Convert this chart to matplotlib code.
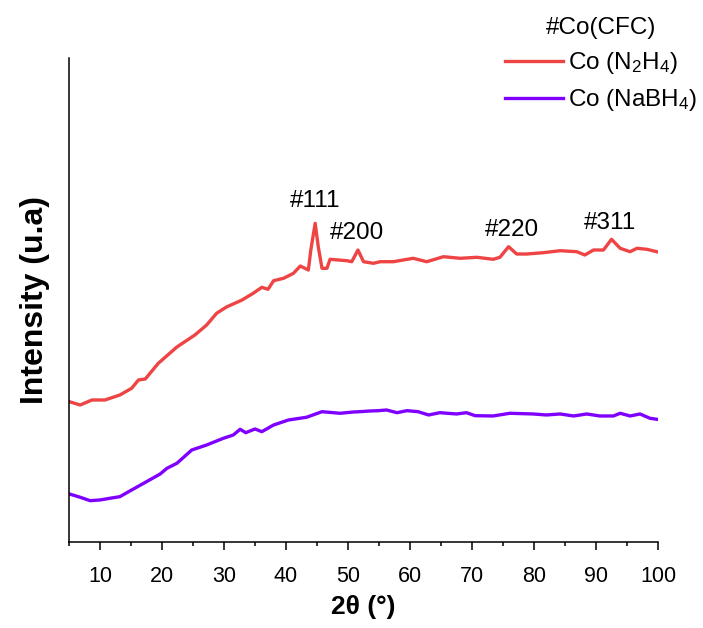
import matplotlib
matplotlib.use('Agg')
import matplotlib.pyplot as plt
from matplotlib.ticker import MultipleLocator

plt.rcParams['font.family'] = ['Liberation Sans', 'DejaVu Sans']
plt.rcParams['mathtext.default'] = 'regular'

# XRD patterns (2theta in degrees, intensity in arbitrary units)
theta_n2h4 = [5.05, 6.8, 8.7, 10.8, 13.2, 15.1, 16.2, 17.3, 19.4, 22.4, 25.3, 27.2,
              28.8, 30.4, 32.9, 34.7, 36.1, 37.1, 38.0, 39.6, 41.2, 42.3, 43.6, 44.0,
              44.7, 45.2, 45.8, 46.6, 47.1, 49.8, 50.6, 51.6, 52.5, 54.1, 55.2, 57.3,
              60.5, 62.7, 65.4, 68.1, 70.8, 73.4, 74.5, 75.9, 77.2, 78.8, 81.5, 84.2,
              86.9, 88.2, 89.6, 91.2, 92.5, 93.9, 95.5, 96.6, 98.2, 99.8]
int_n2h4 = [140.3, 137, 142, 142, 147, 153.7, 162, 163, 178.7, 195, 207, 217,
            228.7, 235, 242, 248.7, 254.7, 252.7, 261.3, 263.7, 268.7, 276, 272, 292,
            318.7, 295.3, 273.7, 273.7, 282.7, 281.3, 280.3, 292, 280.3, 278.7, 280.3, 280.3,
            283.7, 280.3, 285.3, 283.7, 284.7, 282.7, 284.7, 295.3, 288, 288, 289.3, 291.3,
            290.3, 287, 292, 292, 302.7, 293.7, 290.3, 293.7, 292.7, 290.3]

theta_nabh4 = [5.05, 6.8, 8.4, 10.0, 11.6, 13.2, 15.1, 17.5, 19.7, 20.8, 22.4, 24.8,
               27.2, 29.9, 31.5, 32.6, 33.5, 35.0, 36.1, 38.0, 40.4, 43.3, 45.8, 48.7,
               50.9, 51.9, 53.6, 54.9, 56.2, 57.9, 59.5, 61.3, 63.0, 64.8, 67.5, 69.1,
               70.5, 73.4, 76.1, 79.9, 82.0, 84.2, 86.4, 88.5, 90.6, 92.8, 93.9, 95.5,
               97.1, 98.7, 99.8]
int_nabh4 = [48, 44.7, 41.3, 42, 43.7, 45.3, 52, 60.3, 68, 73.7, 78.7, 92,
             97, 103.7, 107, 112.7, 109.3, 113, 110.3, 117, 122, 124.7, 130.3, 128.7,
             130, 130.3, 131, 131.3, 132, 129.3, 131.3, 130.3, 127, 129.3, 128, 129.3,
             126.3, 126, 128.7, 128, 127, 128, 126, 128, 126, 126, 128.7, 126,
             128, 123.7, 122.7]

# Co fcc reflections and where their labels sit
peak_labels = ['#111', '#200', '#220', '#311']
label_theta = [44.7, 51.5, 76.5, 92.3]
label_int = [341, 309, 312, 319]

fig = plt.figure(figsize=(7.03, 6.28), dpi=100)
ax = fig.add_axes([0.0982, 0.137, 0.8378, 0.7706])

ax.plot(theta_n2h4, int_n2h4, color='#EE4444', lw=2.4, label='Co (N$_2$H$_4$)')
ax.plot(theta_nabh4, int_nabh4, color='#8000FF', lw=2.4, label='Co (NaBH$_4$)')

for txt, tx, ty in zip(peak_labels, label_theta, label_int):
    ax.text(tx, ty, txt, ha='center', va='center', fontsize=17.5)

ax.set_xlim(5, 100)
ax.set_ylim(0, 484)
ax.xaxis.set_major_locator(MultipleLocator(10))
ax.xaxis.set_minor_locator(MultipleLocator(5))
ax.set_yticks([])
ax.tick_params(axis='x', which='major', direction='out', length=6, width=1.1,
               labelsize=15.5, pad=11)
ax.tick_params(axis='x', which='minor', direction='out', length=3, width=1.1)

for side in ['top', 'right']:
    ax.spines[side].set_visible(False)
for side in ['left', 'bottom']:
    ax.spines[side].set_linewidth(1.1)

ax.set_xlabel('2θ (°)', fontsize=19, fontweight='bold', labelpad=6)
ax.set_ylabel('Intensity (u.a)', fontsize=23, fontweight='bold', labelpad=14)

leg = ax.legend(title='#Co(CFC)', loc='upper right', bbox_to_anchor=(1.006, 0.988),
                bbox_transform=fig.transFigure, frameon=False, fontsize=17.5,
                title_fontsize=17.5, handlelength=2.4, handletextpad=0.2,
                labelspacing=0.45, borderaxespad=0)

fig.savefig('out.png', dpi=100)
